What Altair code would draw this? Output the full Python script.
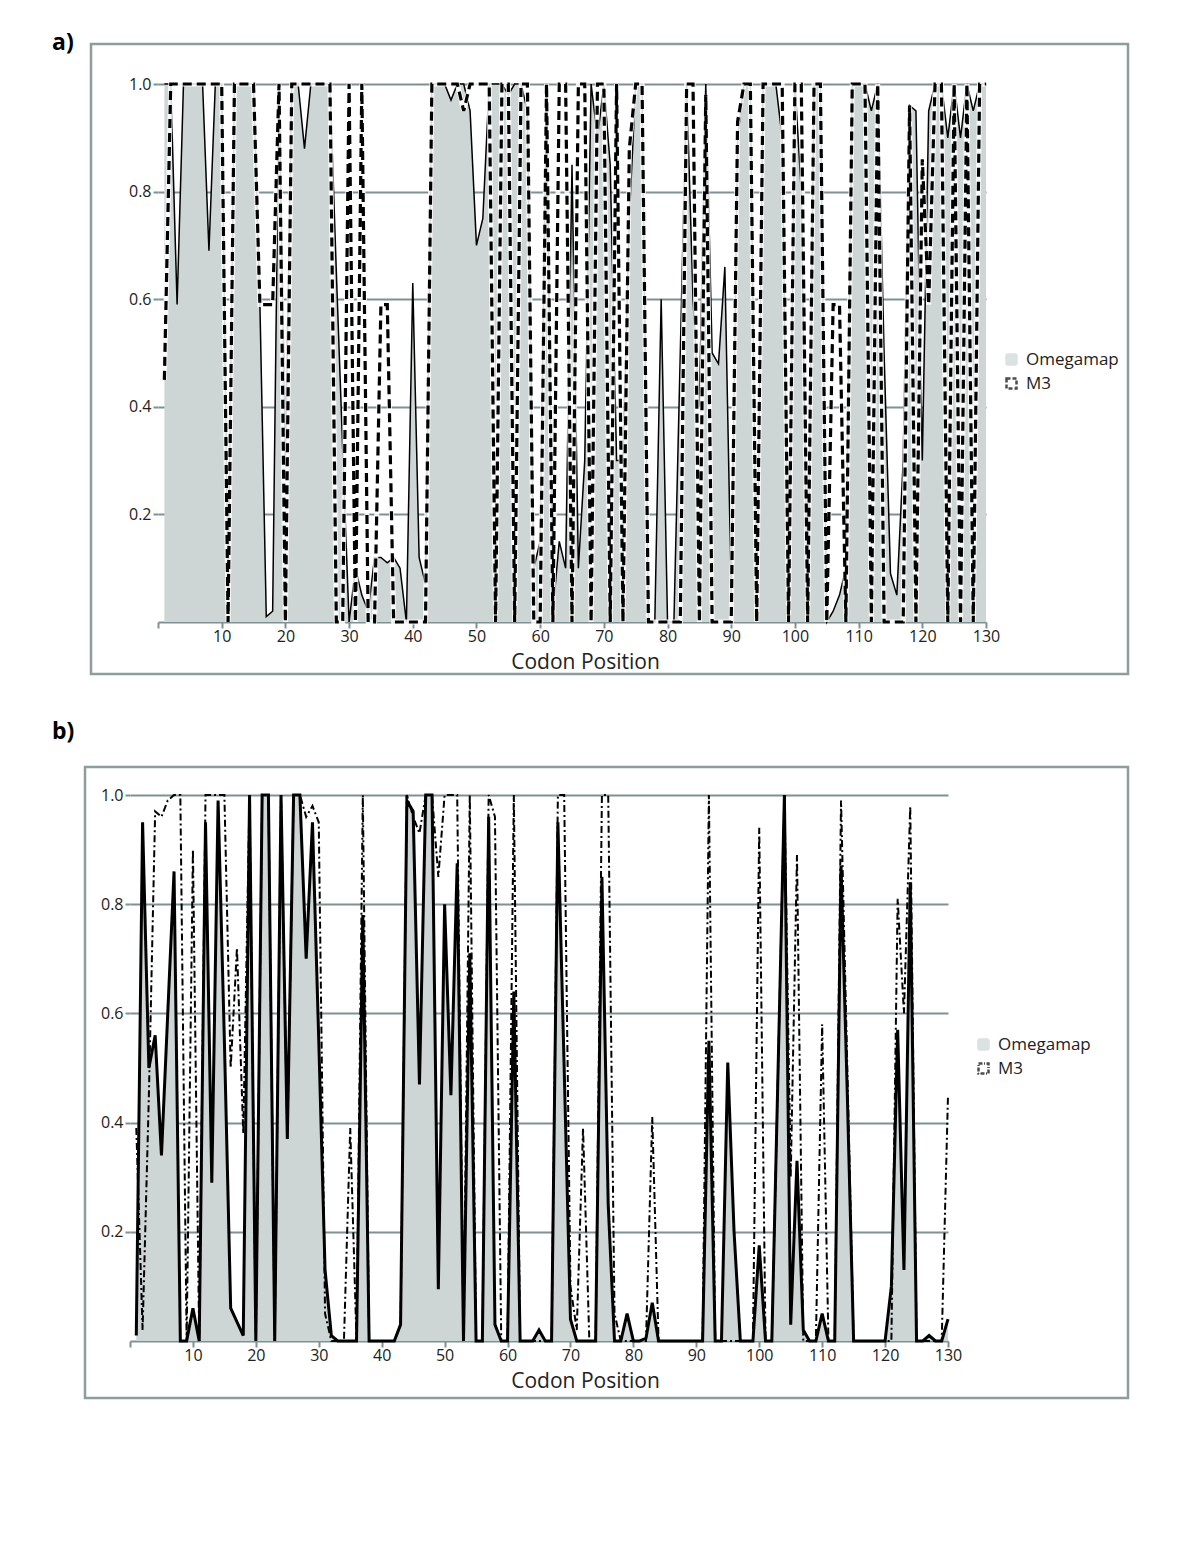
import altair as alt
import pandas as pd

codons = list(range(1, 131))
series_names = ["Omegamap", "M3"]
x_ticks = list(range(0, 131, 10))
y_ticks = [0.2, 0.4, 0.6, 0.8, 1.0]

omega_a = [1.0, 1.0, 0.59, 1.0, 1.0, 1.0, 1.0, 0.69, 1.0, 1.0,
           0.05, 1.0, 1.0, 1.0, 1.0, 0.59, 0.01, 0.02, 1.0, 0.3,
           1.0, 1.0, 0.88, 1.0, 1.0, 1.0, 1.0, 0.65, 0.32, 0.0,
           0.1, 0.05, 0.02, 0.12, 0.12, 0.11, 0.12, 0.1, 0.0, 0.63,
           0.12, 0.07, 1.0, 1.0, 1.0, 0.97, 1.0, 1.0, 0.95, 0.70,
           0.75, 1.0, 1.0, 1.0, 0.98, 1.0, 1.0, 0.95, 0.1, 0.15,
           1.0, 0.02, 0.15, 0.1, 0.85, 0.1, 0.3, 1.0, 0.9, 1.0,
           0.85, 0.3, 0.3, 0.75, 1.0, 1.0, 0.0, 0.0, 0.6, 0.0,
           0.0, 0.5, 1.0, 0.6, 0.4, 1.0, 0.5, 0.48, 0.66, 0.05,
           0.9, 1.0, 1.0, 0.0, 1.0, 1.0, 1.0, 0.9, 0.0, 1.0,
           0.8, 0.0, 1.0, 1.0, 0.0, 0.02, 0.05, 0.1, 1.0, 1.0,
           1.0, 0.95, 1.0, 0.5, 0.09, 0.05, 0.3, 0.96, 0.95, 0.3,
           0.95, 1.0, 1.0, 0.9, 1.0, 0.9, 1.0, 0.95, 1.0, 1.0]

m3_a = [0.45, 1, 1, 1, 1, 1, 1, 1, 1, 1,
        0, 1, 1, 1, 1, 0.59, 0.59, 0.59, 1, 0,
        1, 1, 1, 1, 1, 1, 1, 0, 0, 1,
        0, 1, 0, 0, 0.59, 0.59, 0, 0, 0, 0,
        0, 0, 1, 1, 1, 1, 1, 0.95, 1, 1,
        1, 1, 0, 1, 1, 0, 1, 1, 0, 0,
        1, 0, 1, 1, 0, 1, 1, 0, 1, 1,
        0, 1, 0, 0.88, 1, 1, 0, 0, 0, 0,
        0, 0, 1, 1, 0, 0.98, 0, 0, 0, 0,
        0.93, 1, 1, 0, 1, 1, 1, 1, 0, 1,
        1, 0, 1, 1, 0, 0.59, 0.59, 0, 1, 1,
        1, 0, 1, 0, 0, 0, 0, 0.96, 0, 0.86,
        0.59, 1, 1, 0, 1, 0, 1, 0, 1, 1]

omega_b = [0.01, 0.95, 0.50, 0.56, 0.34, 0.60, 0.86, 0.0, 0.0, 0.06,
           0.0, 0.95, 0.29, 0.99, 0.55, 0.06, 0.035, 0.01, 1.0, 0.0,
           1.0, 1.0, 0.0, 1.0, 0.37, 1.0, 1.0, 0.70, 0.95, 0.55,
           0.13, 0.01, 0.0, 0.0, 0.0, 0.0, 0.78, 0.0, 0.0, 0.0,
           0.0, 0.0, 0.03, 0.99, 0.97, 0.47, 1.0, 1.0, 0.095, 0.80,
           0.45, 0.875, 0.0, 0.71, 0.0, 0.0, 0.96, 0.03, 0.0, 0.0,
           0.64, 0.0, 0.0, 0.0, 0.02, 0.0, 0.0, 0.95, 0.50, 0.04,
           0.0, 0.0, 0.0, 0.0, 0.85, 0.25, 0.0, 0.0, 0.05, 0.0,
           0.0, 0.005, 0.07, 0.0, 0.0, 0.0, 0.0, 0.0, 0.0, 0.0,
           0.0, 0.55, 0.0, 0.0, 0.51, 0.2, 0.0, 0.0, 0.0, 0.175,
           0.0, 0.0, 0.5, 1.0, 0.03, 0.33, 0.02, 0.0, 0.0, 0.05,
           0.0, 0.0, 0.87, 0.45, 0.0, 0.0, 0.0, 0.0, 0.0, 0.0,
           0.1, 0.57, 0.13, 0.84, 0.0, 0.0, 0.01, 0.0, 0.0, 0.04]

m3_b = [0.39, 0.02, 0.45, 0.97, 0.96, 0.99, 1.0, 1.0, 0.0, 0.9,
        0.0, 1.0, 1.0, 1.0, 1.0, 0.5, 0.72, 0.38, 1.0, 0.0,
        1.0, 1.0, 0.0, 1.0, 0.37, 1.0, 1.0, 0.96, 0.98, 0.95,
        0.05, 0.0, 0.0, 0.0, 0.39, 0.0, 1.0, 0.0, 0.0, 0.0,
        0.0, 0.0, 0.03, 1.0, 0.96, 0.93, 1.0, 1.0, 0.85, 1.0,
        1.0, 1.0, 0.0, 1.0, 0.0, 0.0, 1.0, 0.96, 0.0, 0.0,
        1.0, 0.0, 0.0, 0.0, 0.0, 0.0, 0.0, 1.0, 1.0, 0.1,
        0.02, 0.39, 0.0, 0.0, 1.0, 1.0, 0.05, 0.0, 0.0, 0.0,
        0.0, 0.0, 0.41, 0.0, 0.0, 0.0, 0.0, 0.0, 0.0, 0.0,
        0.0, 1.0, 0.0, 0.0, 0.0, 0.0, 0.0, 0.0, 0.0, 0.94,
        0.0, 0.0, 0.5, 1.0, 0.3, 0.89, 0.0, 0.0, 0.0, 0.58,
        0.0, 0.0, 0.99, 0.5, 0.0, 0.0, 0.0, 0.0, 0.0, 0.0,
        0.0, 0.81, 0.6, 0.98, 0.0, 0.0, 0.0, 0.0, 0.0, 0.45]

GRAY = "#cdd6d5"
FRAME = "#8d9d9c"
GRID = "#7f9191"
TEXT = "#222222"
FONT = "Open Sans"


def panel(tag, omega, m3, w, h, x_shift, frame, tag_xy, legend_xy, title_x, bottom_panel):
    df = pd.DataFrame({"codon": codons, "omega": omega, "m3": m3})
    long_df = pd.concat([
        pd.DataFrame({"codon": codons, "value": omega, "series": series_names[0]}),
        pd.DataFrame({"codon": codons, "value": m3, "series": series_names[1]}),
    ])
    xscale = alt.Scale(domain=[0, 130], nice=False, zero=False, range=[-x_shift, w])
    yscale = alt.Scale(domain=[0, 1], nice=False)
    xaxis = alt.Axis(values=x_ticks, title="Codon Position",
                     labelExpr="datum.value == 0 ? '' : datum.label",
                     grid=False, labelFlush=False, titleX=title_x)
    yaxis = alt.Axis(values=y_ticks, format=".1f", title=None, grid=True,
                     domain=False, offset=x_shift)
    X = alt.X("codon:Q", scale=xscale, axis=xaxis)

    frame_layer = alt.Chart(pd.DataFrame({"f": [0]})).mark_rect(
        fill="transparent", stroke=FRAME, strokeWidth=2.5
    ).encode(x=alt.value(frame[0]), x2=alt.value(frame[1]),
             y=alt.value(frame[2]), y2=alt.value(frame[3]))

    tag_layer = alt.Chart(pd.DataFrame({"t": [tag]})).mark_text(
        align="left", baseline="top", fontSize=23, fontWeight="bold",
        font=FONT, color="black"
    ).encode(text="t:N", x=alt.value(tag_xy[0]), y=alt.value(tag_xy[1]))

    base = alt.Chart(df)
    area = base.mark_area(color=GRAY, opacity=1).encode(
        x=X, y=alt.Y("omega:Q", scale=yscale, axis=yaxis))

    dash_range = [[1, 0], [4, 2]] if not bottom_panel else [[1, 0], [4, 1.5, 1, 1.5]]
    leg = alt.Legend(title=None, orient="none", legendX=legend_xy[0], legendY=legend_xy[1])
    legend_layer = alt.Chart(long_df).transform_filter("false").mark_point(
        filled=True, shape="square"
    ).encode(
        x=X, y=alt.Y("value:Q", scale=yscale, axis=yaxis),
        fill=alt.Fill("series:N", scale=alt.Scale(domain=series_names, range=[GRAY, "white"]),
                      legend=leg),
        stroke=alt.Stroke("series:N", scale=alt.Scale(domain=series_names, range=[GRAY, "black"]),
                          legend=leg),
        strokeDash=alt.StrokeDash("series:N",
                                  scale=alt.Scale(domain=series_names, range=dash_range),
                                  legend=leg),
    )

    if not bottom_panel:
        omega_line = base.mark_line(color="black", strokeWidth=1.5).encode(
            x=X, y=alt.Y("omega:Q", scale=yscale, axis=yaxis))
        halo = base.mark_line(color="white", strokeWidth=5, opacity=0.85).encode(
            x=X, y=alt.Y("m3:Q", scale=yscale, axis=yaxis))
        m3_line = base.mark_line(color="black", strokeWidth=3.2, strokeDash=[9, 5]).encode(
            x=X, y=alt.Y("m3:Q", scale=yscale, axis=yaxis))
        layers = [frame_layer, tag_layer, area, omega_line, halo, m3_line, legend_layer]
    else:
        m3_line = base.mark_line(color="black", strokeWidth=2, strokeDash=[7, 3, 2, 3]).encode(
            x=X, y=alt.Y("m3:Q", scale=yscale, axis=yaxis))
        omega_line = base.mark_line(color="black", strokeWidth=3).encode(
            x=X, y=alt.Y("omega:Q", scale=yscale, axis=yaxis))
        layers = [frame_layer, tag_layer, area, m3_line, omega_line, legend_layer]

    return alt.layer(*layers).properties(width=w, height=h)


panel_a = panel("a)", omega_a, m3_a, 828, 538, 0, (-67, 970, -40, 590), (-106, -52), (845, 267), 427, False)
panel_b = panel("b)", omega_b, m3_b, 790, 546, 28, (-73, 970, -28, 603), (-106, -74), (817, 241), 427, True)

chart = alt.vconcat(panel_a, panel_b, spacing=45).resolve_scale(
    x="independent", y="independent", fill="independent", stroke="independent",
    strokeDash="independent"
).properties(
    padding={"left": 44, "top": 24, "right": 5, "bottom": 5}
).configure_view(strokeWidth=0).configure_axis(
    labelFont=FONT, labelFontSize=16, labelColor=TEXT,
    titleFont=FONT, titleFontSize=21, titleFontWeight="normal", titleColor=TEXT,
    domainColor=GRID, domainWidth=2, tickColor=GRID, tickWidth=2,
    gridColor=GRID, gridWidth=2, gridOpacity=1
).configure_axisX(
    tickSize=6, labelPadding=0, titlePadding=7
).configure_axisY(
    tickSize=5, labelPadding=2
).configure_legend(
    labelFont=FONT, labelFontSize=17, labelColor=TEXT,
    symbolType="square", symbolSize=100, symbolStrokeWidth=2.5,
    rowPadding=3, labelOffset=6
)

chart.save("out.html", embed_options={"renderer": "svg", "actions": False})
